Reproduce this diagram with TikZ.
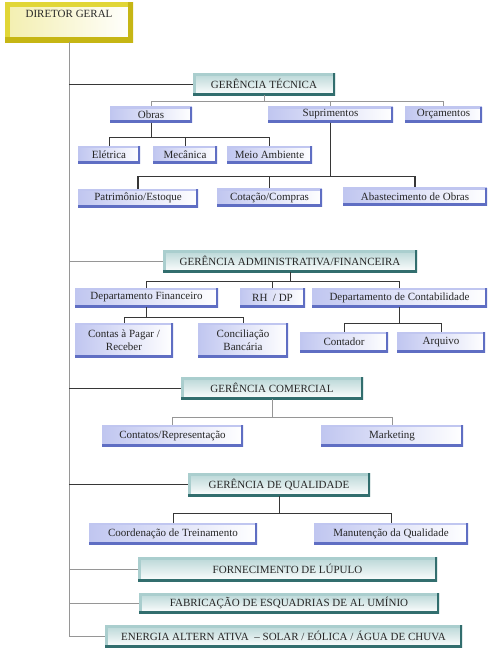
\documentclass[tikz,border=0pt]{standalone}
\usepackage{fontspec}
\setmainfont{Liberation Serif}
\definecolor{tealdark}{RGB}{50,110,110}
\definecolor{teallite}{RGB}{170,206,206}
\definecolor{bluedark}{RGB}{95,110,195}
\definecolor{bluelite}{RGB}{192,198,240}
\definecolor{yellowdark}{RGB}{198,182,20}
\definecolor{yellowlite}{RGB}{225,214,55}
\definecolor{linegray}{RGB}{150,150,150}
\definecolor{linedark}{RGB}{55,55,55}

\begin{document}
\begin{tikzpicture}[x=1pt, y=-1pt,
    bevel/.style n args={3}{path picture={
      \draw[line width=#1, #2] (path picture bounding box.south west) -- (path picture bounding box.north west) -- (path picture bounding box.north east);
      \draw[line width=#1, #3] (path picture bounding box.south west) -- (path picture bounding box.south east) -- (path picture bounding box.north east);}},
    box/.style={inner sep=1pt, align=center, font=\fontsize{11}{13}\selectfont, text=black!85},
    bluebox/.style={box, left color=bluelite, right color=white, bevel={4.5pt}{bluelite}{bluedark}},
    tealbox/.style={box, top color=teallite!85, bottom color=white, bevel={5pt}{teallite}{tealdark}},
    dirbox/.style={box, left color=yellowlite!40, right color=white, bevel={10pt}{yellowlite}{yellowdark}},
    conn/.style={draw=linegray, line width=0.6pt},
    connd/.style={draw=linedark, line width=0.7pt}]
  \useasboundingbox (0,0) rectangle (494,651);

  % Diretor geral
  \node[dirbox, minimum width=128pt, minimum height=40pt] (dir) at (69,22) {DIRETOR GERAL\\[4pt]\mbox{}};

  % Gerencia tecnica
  \node[tealbox, minimum width=142pt, minimum height=22pt] (gt) at (264,84) {GERÊNCIA TÉCNICA};
  \node[bluebox, minimum width=82pt, minimum height=16pt] (obras) at (151,114.5) {Obras};
  \node[bluebox, minimum width=125pt, minimum height=16pt] (supr) at (330.5,114.5) {Suprimentos};
  \node[bluebox, minimum width=77pt, minimum height=16pt] (orc) at (443.5,114.5) {Orçamentos};
  \node[bluebox, minimum width=62pt, minimum height=17pt] (elet) at (109,154.5) {Elétrica};
  \node[bluebox, minimum width=64pt, minimum height=17pt] (mec) at (185,154.5) {Mecânica};
  \node[bluebox, minimum width=85pt, minimum height=17pt] (meio) at (269.5,154.5) {Meio Ambiente};
  \node[bluebox, minimum width=120pt, minimum height=18pt] (patr) at (138,198) {Patrimônio/Estoque};
  \node[bluebox, minimum width=105pt, minimum height=18pt] (cot) at (269.5,197.5) {Cotação/Compras};
  \node[bluebox, minimum width=144pt, minimum height=18pt] (abast) at (415,196.5) {Abastecimento de Obras};

  % Gerencia administrativa/financeira
  \node[tealbox, minimum width=254pt, minimum height=22pt] (gaf) at (290,261) {GERÊNCIA ADMINISTRATIVA/FINANCEIRA};
  \node[bluebox, minimum width=143pt, minimum height=19pt] (dfin) at (146.5,297.5) {Departamento Financeiro};
  \node[bluebox, minimum width=65pt, minimum height=19pt] (rh) at (272.5,297.5) {RH~~/ DP};
  \node[bluebox, minimum width=175pt, minimum height=19pt] (dcont) at (399.5,297.5) {Departamento de Contabilidade};
  \node[bluebox, minimum width=98pt, minimum height=34pt] (contas) at (124,340) {Contas à Pagar /\\Receber};
  \node[bluebox, minimum width=90pt, minimum height=34pt] (concil) at (243,340) {Conciliação\\Bancária};
  \node[bluebox, minimum width=88pt, minimum height=20pt] (contad) at (344,342) {Contador};
  \node[bluebox, minimum width=88pt, minimum height=20pt] (arq) at (441,342) {Arquivo};

  % Gerencia comercial
  \node[tealbox, minimum width=182pt, minimum height=22pt] (gc) at (272,388) {GERÊNCIA COMERCIAL};
  \node[bluebox, minimum width=141pt, minimum height=21pt] (contat) at (172.5,435.5) {Contatos/Representação};
  \node[bluebox, minimum width=142pt, minimum height=21pt] (mkt) at (392,435.5) {Marketing};

  % Gerencia de qualidade
  \node[tealbox, minimum width=182pt, minimum height=23pt] (gq) at (279,484.5) {GERÊNCIA DE QUALIDADE};
  \node[bluebox, minimum width=168pt, minimum height=21pt] (coord) at (173,533.5) {Coordenação de Treinamento};
  \node[bluebox, minimum width=154pt, minimum height=21pt] (manut) at (391,533.5) {Manutenção da Qualidade};

  % Demais areas
  \node[tealbox, minimum width=299pt, minimum height=24pt] (forn) at (287.5,569) {FORNECIMENTO DE LÚPULO};
  \node[tealbox, minimum width=300pt, minimum height=20pt] (fabr) at (289,603) {FABRICAÇÃO DE ESQUADRIAS DE AL UMÍNIO};
  \node[tealbox, minimum width=357pt, minimum height=22pt] (ener) at (283.5,636) {ENERGIA ALTERN ATIVA~~– SOLAR / EÓLICA / ÁGUA DE CHUVA};

  % Tronco
  \draw[conn] (dir.south) -- (dir.south |- ener.west);
  \draw[connd] (dir.south |- gt.west) -- (gt.west);
  \draw[conn] (dir.south |- gaf.west) -- (gaf.west);
  \draw[connd] (dir.south |- gc.west) -- (gc.west);
  \draw[connd] (dir.south |- gq.west) -- (gq.west);
  \draw[conn] (dir.south |- forn.west) -- (forn.west);
  \draw[conn] (dir.south |- fabr.west) -- (fabr.west);
  \draw[conn] (dir.south |- ener.west) -- (ener.west);

  % Ligacoes
  \draw[conn] (gt.south) -- ++(0,6) -| (obras.north);
  \draw[conn] (gt.south) -- ++(0,6) -| (supr.north);
  \draw[conn] (gt.south) -- ++(0,6) -| (orc.north);
  \draw[connd] (obras.south) -- ++(0,15) -| (elet.north);
  \draw[connd] (obras.south) -- ++(0,15) -| (mec.north);
  \draw[connd] (obras.south) -- ++(0,15) -| (meio.north);
  \draw[connd, line width=1.1pt] (supr.south) -- ++(0,54) -| (patr.north);
  \draw[connd, line width=1.1pt] (supr.south) -- ++(0,54) -| (cot.north);
  \draw[connd, line width=1.1pt] (supr.south) -- ++(0,54) -| (abast.north);
  \draw[connd] (gaf.south) -- ++(0,9) -| (dfin.north);
  \draw[connd] (gaf.south) -- ++(0,9) -| (rh.north);
  \draw[connd] (gaf.south) -- ++(0,9) -| (dcont.north);
  \draw[connd] (dfin.south) -- ++(0,10) -| (contas.north);
  \draw[connd] (dfin.south) -- ++(0,10) -| (concil.north);
  \draw[connd] (dcont.south) -- ++(0,16) -| (contad.north);
  \draw[connd] (dcont.south) -- ++(0,16) -| (arq.north);
  \draw[conn] (gc.south) -- ++(0,18) -| (contat.north);
  \draw[conn] (gc.south) -- ++(0,18) -| (mkt.north);
  \draw[connd] (gq.south) -- ++(0,17) -| (coord.north);
  \draw[connd] (gq.south) -- ++(0,17) -| (manut.north);
\end{tikzpicture}
\end{document}
